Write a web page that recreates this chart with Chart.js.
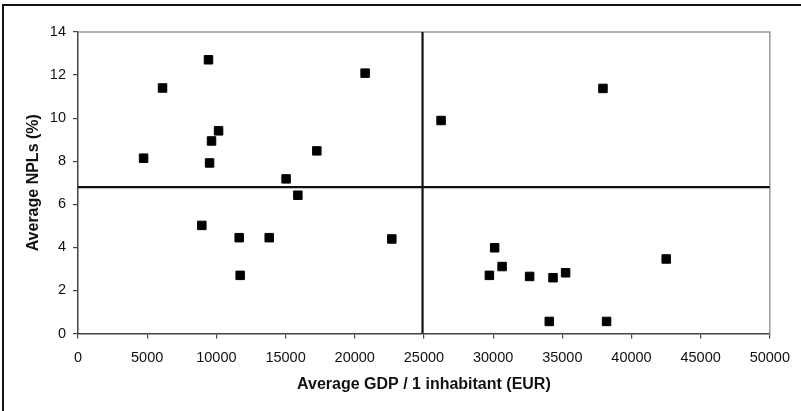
<!DOCTYPE html>
<html>
<head>
<meta charset="utf-8">
<script src="https://cdn.jsdelivr.net/npm/chart.js@4/dist/chart.umd.min.js"></script>
<style>
  html, body { margin: 0; padding: 0; background: #fff; overflow: hidden; }
  #frame { position: absolute; left: 2px; top: 4px; width: 801px; height: 411px;
           border-top: 2px solid #111; border-left: 2px solid #111; }
  #wrap { position: absolute; left: 0; top: 0; width: 801px; height: 411px; }
</style>
</head>
<body>
<div id="frame"></div>
<div id="wrap"><canvas id="c" width="801" height="411"></canvas></div>
<script>
// Average GDP per inhabitant (EUR) and average NPL ratio (%) per country
const gdpPerInhabitant = [
  4740, 6110, 9430, 10160, 9650, 9510, 17260, 15040, 15890, 20750,
  37940, 26240,
  8950, 11650, 13820, 11720, 22680,
  30110, 30650, 29730, 32640, 34330, 35240, 42510, 34060, 38200
];
const nplRatio = [
  8.14, 11.40, 12.71, 9.41, 8.94, 7.92, 8.48, 7.18, 6.42, 12.09,
  11.38, 9.89,
  5.02, 4.45, 4.45, 2.70, 4.39,
  3.98, 3.11, 2.70, 2.65, 2.59, 2.82, 3.46, 0.56, 0.56
];
// Sample averages used as quadrant dividers
const meanGdp = 24900;
const meanNpl = 6.8;
// Axis ranges and tick labels
const xTicks = [0, 5000, 10000, 15000, 20000, 25000, 30000, 35000, 40000, 45000, 50000];
const yTicks = [0, 2, 4, 6, 8, 10, 12, 14];

const points = gdpPerInhabitant.map((g, i) => ({ x: g, y: nplRatio[i] }));
const xMin = xTicks[0], xMax = xTicks[xTicks.length - 1];
const yMin = yTicks[0], yMax = yTicks[yTicks.length - 1];

// Thin gray frame on top and right of the plot area
const plotFrame = {
  id: 'plotFrame',
  beforeDatasetsDraw(chart) {
    const { ctx, chartArea: a } = chart;
    ctx.save();
    ctx.strokeStyle = '#9a9a9a';
    ctx.lineWidth = 1.5;
    ctx.beginPath();
    ctx.moveTo(a.left, a.top);
    ctx.lineTo(a.right, a.top);
    ctx.lineTo(a.right, a.bottom);
    ctx.stroke();
    ctx.restore();
  }
};

const font = { family: '"Liberation Sans", Arial, sans-serif', size: 14.5 };
const boldFont = { family: '"Liberation Sans", Arial, sans-serif', size: 16, weight: 'bold' };

new Chart(document.getElementById('c'), {
  type: 'scatter',
  data: {
    datasets: [
      {
        label: 'Countries',
        data: points,
        pointStyle: 'rect',
        pointRadius: 6,
        pointHoverRadius: 6,
        backgroundColor: '#000',
        borderColor: '#000',
        borderWidth: 1,
        order: 0
      },
      {
        label: 'Mean NPL',
        data: [{ x: xMin, y: meanNpl }, { x: xMax, y: meanNpl }],
        showLine: true,
        borderColor: '#111',
        borderWidth: 2.2,
        pointRadius: 0,
        order: 1
      },
      {
        label: 'Mean GDP',
        data: [{ x: meanGdp, y: yMin }, { x: meanGdp, y: yMax }],
        showLine: true,
        borderColor: '#111',
        borderWidth: 2.2,
        pointRadius: 0,
        order: 1
      }
    ]
  },
  options: {
    responsive: false,
    animation: false,
    layout: { padding: { top: 32, right: 31, left: 24, bottom: 17 } },
    plugins: { legend: { display: false }, tooltip: { enabled: false } },
    scales: {
      x: {
        type: 'linear',
        min: xMin, max: xMax,
        afterBuildTicks(scale) { scale.ticks = xTicks.map(v => ({ value: v })); },
        afterFit(scale) { scale.height = 411 - 333.5 - 17; },
        border: { display: true, color: '#444', width: 1.5 },
        grid: { display: true, drawOnChartArea: false, drawTicks: true, tickLength: 5, color: '#444', lineWidth: 1.2 },
        ticks: { color: '#111', font, padding: 11, maxRotation: 0, autoSkip: false, callback: v => String(v) },
        title: { display: true, text: 'Average GDP / 1 inhabitant (EUR)', color: '#111', font: boldFont, padding: { top: 0, bottom: 0 } }
      },
      y: {
        type: 'linear',
        min: yMin, max: yMax,
        afterBuildTicks(scale) { scale.ticks = yTicks.map(v => ({ value: v })); },
        afterFit(scale) { scale.width = 78 - 24; },
        border: { display: true, color: '#444', width: 1.5 },
        grid: { display: true, drawOnChartArea: false, drawTicks: true, tickLength: 5, color: '#444', lineWidth: 1.2 },
        ticks: { color: '#111', font, padding: 7, autoSkip: false, callback: v => String(v) },
        title: { display: true, text: 'Average NPLs (%)', color: '#111', font: boldFont, padding: { top: 0, bottom: 0 } }
      }
    }
  },
  plugins: [plotFrame]
});
</script>
</body>
</html>
